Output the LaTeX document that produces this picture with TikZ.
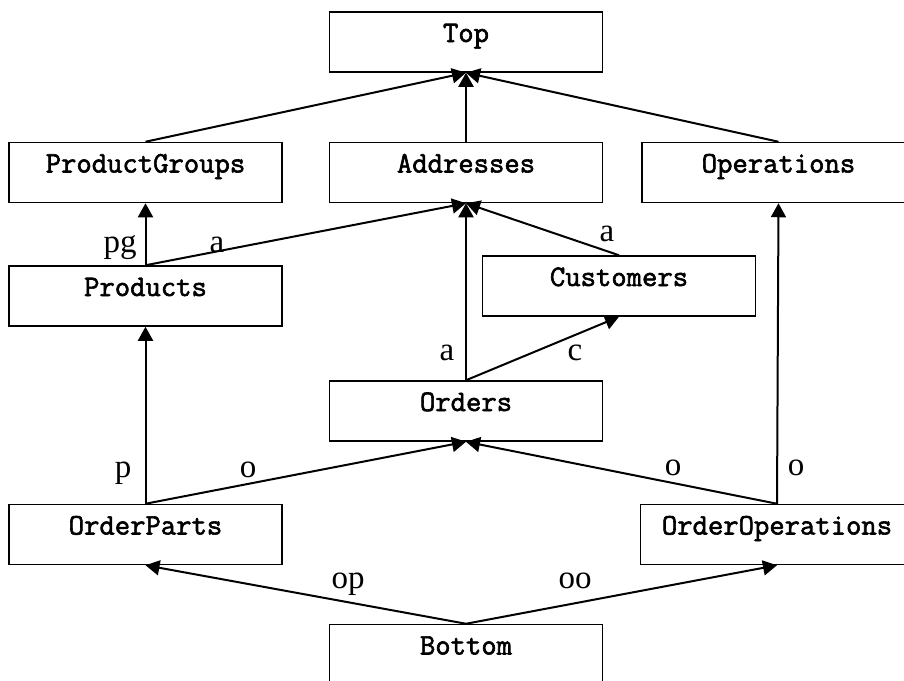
\documentclass[tikz,border=0pt]{standalone}
\usepackage{fontspec}
\setmainfont{Liberation Serif}
\newfontfamily\boxfont{Latin Modern Mono}[FakeBold=2]
\usetikzlibrary{positioning,arrows.meta}

\begin{document}
\begin{tikzpicture}[
x=1pt, y=1pt,
box/.style={draw, line width=0.75pt, minimum width=136.5pt, minimum height=30pt, inner sep=0pt, text height=9pt, text depth=9pt, font=\boxfont\fontsize{14.9}{17}\selectfont},
arrow/.style={-{Triangle[length=7pt,width=7.5pt]}, line width=1pt},
lbl/.style={anchor=base, inner sep=0pt, font=\fontsize{16.5}{18}\selectfont}
]
\useasboundingbox (0,0) rectangle (452,-340);
% boxes
\node[box] (top) at (233,-21) {Top};
\node[box, below=34.5pt of top] (addr) {Addresses};
\node[box, left=23pt of addr] (pgroups) {ProductGroups};
\node[box, right=19pt of addr] (ops) {Operations};
\node[box, below=31pt of pgroups] (prod) {Products};
\node[box] (cust) at (309.5,-143) {Customers};
\node[box, below=88.5pt of addr] (orders) {Orders};
\node[box, below=88.5pt of prod] (parts) {OrderParts};
\node[box, right=178.5pt of parts] (ooper) {OrderOperations};
\node[box, below=91pt of orders] (bottom) {Bottom};
% connectors
\draw[arrow] (pgroups.north) -- (top.south);
\draw[arrow] (addr.north) -- (top.south);
\draw[arrow] (ops.north) -- (top.south);
\draw[arrow] (prod.north) -- (pgroups.south);
\draw[arrow] (prod.north) -- (addr.south);
\draw[arrow] (cust.north) -- (addr.south);
\draw[arrow] (orders.north) -- (addr.south);
\draw[arrow] (orders.north) -- (cust.south);
\draw[arrow] (parts.north) -- (prod.south);
\draw[arrow] (parts.north) -- (orders.south);
\draw[arrow] (ooper.north) -- (orders.south);
\draw[arrow] (ooper.north) -- (ops.south);
\draw[arrow] (bottom.north) -- (parts.south);
\draw[arrow] (bottom.north) -- (ooper.south);
% labels
\node[lbl] (l-pg) at (60,-126) {pg};
\node[lbl] (l-pa) at (108.5,-126) {a};
\node[lbl] (l-ca) at (303.5,-120.5) {a};
\node[lbl] (l-oa) at (223.5,-180) {a};
\node[lbl] (l-oc) at (287.5,-180) {c};
\node[lbl] (l-pp) at (61.5,-238.5) {p};
\node[lbl] (l-po) at (124,-238.5) {o};
\node[lbl] (l-oo) at (336.5,-237.5) {o};
\node[lbl] (l-ops) at (398,-237.5) {o};
\node[lbl] (l-bop) at (174,-294) {op};
\node[lbl] (l-boo) at (287.5,-294) {oo};
\end{tikzpicture}
\end{document}
